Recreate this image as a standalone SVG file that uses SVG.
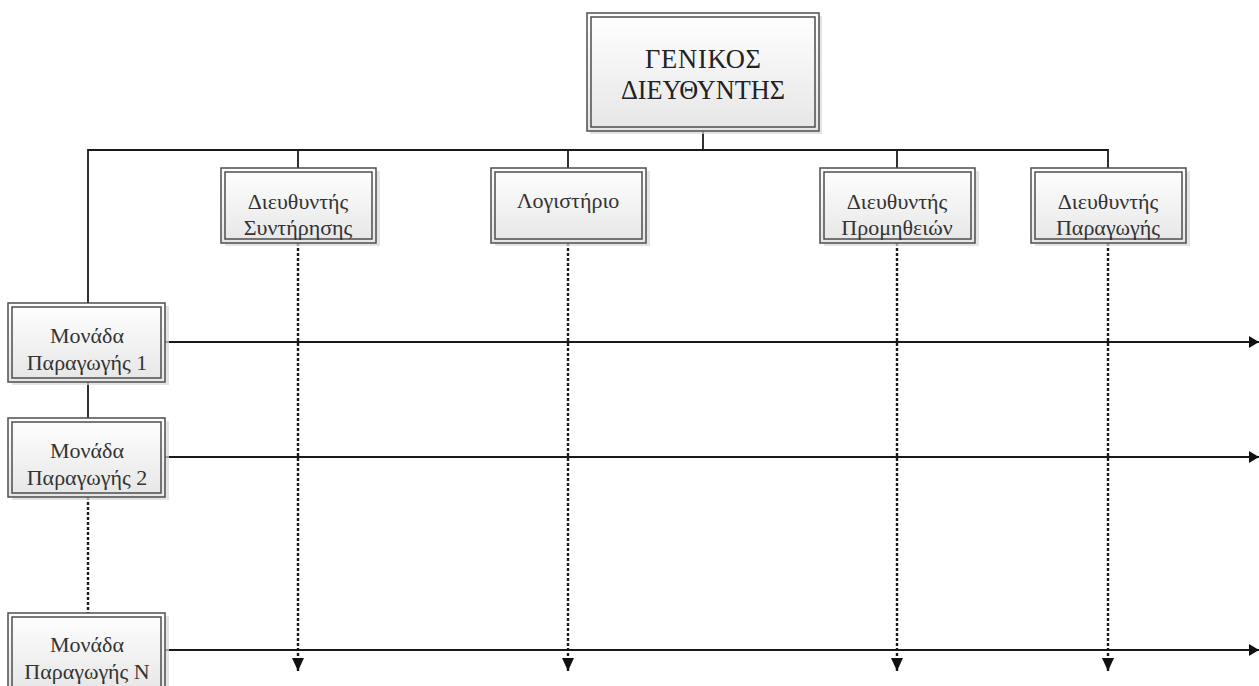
<svg xmlns="http://www.w3.org/2000/svg" width="1259" height="686" viewBox="0 0 1259 686">
  <defs>
    <linearGradient id="boxFill" x1="0" y1="0" x2="0" y2="1">
      <stop offset="0" stop-color="#ffffff"/>
      <stop offset="1" stop-color="#e6e6e6"/>
    </linearGradient>
    <marker id="arrowR" viewBox="0 0 10 12" refX="10" refY="6" markerWidth="10" markerHeight="12" markerUnits="userSpaceOnUse" orient="auto">
      <path d="M0,0 L10,6 L0,12 Z" fill="#111"/>
    </marker>
    <marker id="arrowD" viewBox="0 0 13 12" refX="13" refY="6" markerWidth="13" markerHeight="12" markerUnits="userSpaceOnUse" orient="auto">
      <path d="M0,0 L13,6 L0,12 Z" fill="#111"/>
    </marker>
  </defs>
  <style>
    .shadow { fill: #d9d9d9; opacity: 0.7; }
    .outer { fill: url(#boxFill); stroke: #4d4d4d; stroke-width: 1.5; }
    .inner { fill: none; stroke: #4d4d4d; stroke-width: 1.5; }
    text { font-family: 'Liberation Serif', 'Times New Roman', serif; font-size: 22px; fill: #333; text-anchor: middle; }
    text.big { font-size: 26.5px; fill: #222; }
    .line { fill: none; stroke: #1a1a1a; stroke-width: 1.8; }
    .dot { fill: none; stroke: #1a1a1a; stroke-width: 2.4; stroke-dasharray: 3 2; }
  </style>

  <rect width="1259" height="686" fill="#ffffff"/>

  <!-- connectors -->
  <g id="connectors">
    <!-- head to bus -->
    <path class="line" d="M703,131 V150"/>
    <!-- horizontal bus with drops -->
    <path class="line" d="M88,303 V150 H1108 V168"/>
    <path class="line" d="M298,150 V168"/>
    <path class="line" d="M568,150 V168"/>
    <path class="line" d="M897,150 V168"/>
    <!-- production units chain -->
    <path class="line" d="M88,382 V418"/>
    <path class="dot" d="M88,497 V613"/>
    <!-- horizontal flows -->
    <path class="line" d="M165,342 H1259" marker-end="url(#arrowR)"/>
    <path class="line" d="M165,457 H1259" marker-end="url(#arrowR)"/>
    <path class="line" d="M165,650 H1259" marker-end="url(#arrowR)"/>
    <!-- dotted department flows -->
    <path class="dot" d="M298,243 V671" marker-end="url(#arrowD)"/>
    <path class="dot" d="M568,243 V671" marker-end="url(#arrowD)"/>
    <path class="dot" d="M897,243 V671" marker-end="url(#arrowD)"/>
    <path class="dot" d="M1108,243 V671" marker-end="url(#arrowD)"/>
  </g>

  <!-- general manager -->
  <g id="general-manager">
    <rect class="shadow" x="590" y="16" width="232" height="118"/>
    <rect class="outer" x="587" y="13" width="232" height="118"/>
    <rect class="inner" x="591" y="17" width="224" height="110"/>
    <text class="big" x="703" y="68" textLength="116" lengthAdjust="spacing">ΓΕΝΙΚΟΣ</text>
    <text class="big" x="703" y="99" textLength="164" lengthAdjust="spacingAndGlyphs">ΔΙΕΥΘΥΝΤΗΣ</text>
  </g>

  <g id="maintenance">
    <rect class="shadow" x="225" y="171" width="155" height="75"/>
    <rect class="outer" x="221" y="168" width="155" height="75"/>
    <rect class="inner" x="225" y="172" width="147" height="67"/>
    <text x="298" y="209">Διευθυντής</text>
    <text x="298" y="235">Συντήρησης</text>
  </g>

  <g id="accounting">
    <rect class="shadow" x="495" y="171" width="155" height="75"/>
    <rect class="outer" x="491" y="168" width="155" height="75"/>
    <rect class="inner" x="495" y="172" width="147" height="67"/>
    <text x="568" y="208">Λογιστήριο</text>
  </g>

  <g id="procurement">
    <rect class="shadow" x="824" y="171" width="155" height="75"/>
    <rect class="outer" x="820" y="168" width="155" height="75"/>
    <rect class="inner" x="824" y="172" width="147" height="67"/>
    <text x="897" y="209">Διευθυντής</text>
    <text x="897" y="235">Προμηθειών</text>
  </g>

  <g id="production-manager">
    <rect class="shadow" x="1035" y="171" width="155" height="75"/>
    <rect class="outer" x="1031" y="168" width="155" height="75"/>
    <rect class="inner" x="1035" y="172" width="147" height="67"/>
    <text x="1108" y="209">Διευθυντής</text>
    <text x="1108" y="235">Παραγωγής</text>
  </g>

  <g id="unit-1">
    <rect class="shadow" x="12" y="306" width="157" height="79"/>
    <rect class="outer" x="8" y="303" width="157" height="79"/>
    <rect class="inner" x="12" y="307" width="149" height="71"/>
    <text x="87" y="343">Μονάδα</text>
    <text x="87" y="370">Παραγωγής 1</text>
  </g>

  <g id="unit-2">
    <rect class="shadow" x="12" y="421" width="157" height="79"/>
    <rect class="outer" x="8" y="418" width="157" height="79"/>
    <rect class="inner" x="12" y="422" width="149" height="71"/>
    <text x="87" y="458">Μονάδα</text>
    <text x="87" y="485">Παραγωγής 2</text>
  </g>

  <g id="unit-n">
    <rect class="shadow" x="12" y="616" width="157" height="79"/>
    <rect class="outer" x="8" y="613" width="157" height="79"/>
    <rect class="inner" x="12" y="617" width="149" height="71"/>
    <text x="87" y="652">Μονάδα</text>
    <text x="87" y="679">Παραγωγής Ν</text>
  </g>
</svg>
